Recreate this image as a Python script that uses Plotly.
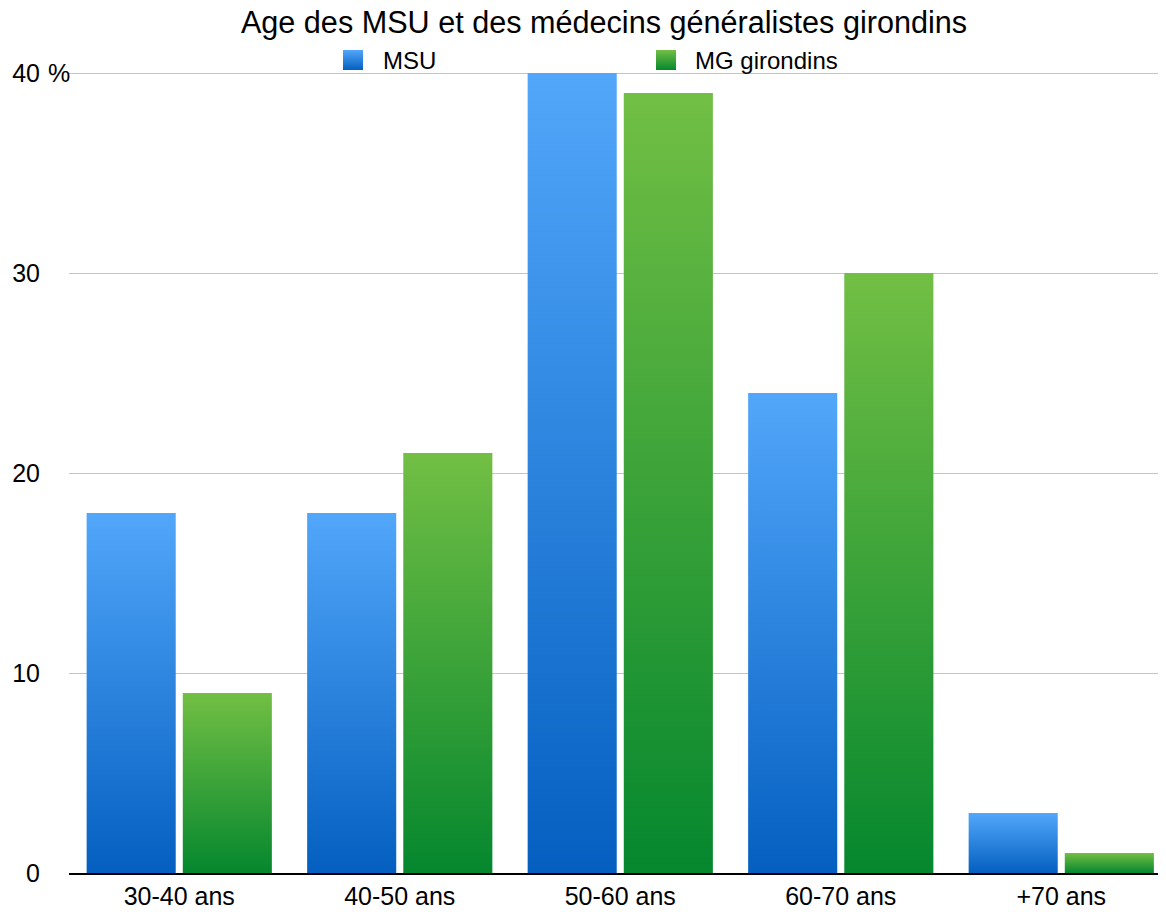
import plotly.graph_objects as go

categories = ["30-40 ans", "40-50 ans", "50-60 ans", "60-70 ans", "+70 ans"]
msu = [18, 18, 40, 24, 3]
mg = [9, 21, 39, 30, 1]
series_names = ["MSU", "MG girondins"]
y_tickvals = [0, 10, 20, 30, 40]
y_ticktext = ["0", "10", "20", "30", "40"]
title_text = "Age des MSU et des médecins généralistes girondins"

FONT = "Liberation Sans, Arial, Helvetica, sans-serif"
BLUE_TOP, BLUE_BOT = "#52A7FA", "#045FC0"
GREEN_TOP, GREEN_BOT = "#72BF44", "#05872E"

BAR_W = 0.404
OFFSETS = [-0.218, 0.218]
series = [msu, mg]
colors = [(BLUE_TOP, BLUE_BOT), (GREEN_TOP, GREEN_BOT)]

# page has an 8px body margin: the figure is drawn from (8, 8)
PAGE_OFF = 8
FIG_W, FIG_H = 1166 - PAGE_OFF, 912 - PAGE_OFF
PLOT_L, PLOT_R, PLOT_T, PLOT_B = 69, 1166, 40, 873   # page pixels
Y_PX_PER_UNIT = 20.0                                  # 0 at 873, 40 at 73
Y_TOP = (PLOT_B - PLOT_T) / Y_PX_PER_UNIT

fig = go.Figure()

for s_idx, vals in enumerate(series):
    top, bot = colors[s_idx]
    for i, v in enumerate(vals):
        xc = i + OFFSETS[s_idx]
        x0, x1 = xc - BAR_W / 2, xc + BAR_W / 2
        fig.add_trace(go.Scatter(
            x=[x0, x1, x1, x0, x0],
            y=[0, 0, v, v, 0],
            mode="none",
            fill="toself",
            fillgradient=dict(type="vertical", colorscale=[[0, bot], [1, top]]),
            name=series_names[s_idx],
            text=f"{series_names[s_idx]} – {categories[i]}: {v}%",
            hoverinfo="text",
            hoveron="fills",
            showlegend=False,
        ))

# manual legend (gradient squares) on an overlay axis in page pixels
legend_x = [353, 666]
legend_text_x = [381, 693]
legend_y = 60
for s_idx, name in enumerate(series_names):
    top, bot = colors[s_idx]
    fig.add_trace(go.Scatter(
        x=[legend_x[s_idx]], y=[legend_y],
        xaxis="x2", yaxis="y2",
        mode="markers",
        marker=dict(symbol="square", size=20, color=top,
                    gradient=dict(type="vertical", color=bot),
                    line=dict(width=0)),
        cliponaxis=False,
        hoverinfo="skip",
        showlegend=False,
    ))
    fig.add_annotation(
        x=legend_text_x[s_idx], y=legend_y, xref="x2", yref="y2",
        text=name, showarrow=False, xanchor="left", yanchor="middle",
        font=dict(family=FONT, size=24, color="black"),
    )

fig.add_annotation(
    x=(46 - PLOT_L) / (PLOT_R - PLOT_L), y=40, xref="paper", yref="y",
    text="%", showarrow=False, xanchor="left", yanchor="middle",
    font=dict(family=FONT, size=25, color="black"),
)

fig.update_layout(
    width=FIG_W, height=FIG_H,
    margin=dict(l=PLOT_L - PAGE_OFF, r=1166 - PLOT_R, t=PLOT_T - PAGE_OFF, b=912 - PLOT_B),
    paper_bgcolor="white", plot_bgcolor="white",
    font=dict(family=FONT, color="black"),
    showlegend=False,
    title=dict(
        text=title_text,
        font=dict(family=FONT, size=30.6, color="black"),
        x=(604 - PAGE_OFF) / FIG_W, xref="container", xanchor="center",
        y=1 - (22 - PAGE_OFF) / FIG_H, yref="container", yanchor="middle",
    ),
    xaxis=dict(
        range=[-0.5, 4.475],
        tickvals=list(range(len(categories))),
        ticktext=categories,
        showgrid=False, zeroline=False,
        showline=True, linecolor="black", linewidth=2,
        ticks="",
        tickfont=dict(family=FONT, size=25, color="black"),
        fixedrange=True,
    ),
    yaxis=dict(
        range=[0, Y_TOP],
        tickvals=y_tickvals, ticktext=y_ticktext,
        showgrid=True, gridcolor="#C4C4C4", gridwidth=1,
        zeroline=False, showline=False, ticks="",
        ticklabelstandoff=28,
        tickfont=dict(family=FONT, size=25, color="black"),
        fixedrange=True,
    ),
    xaxis2=dict(range=[PLOT_L, PLOT_R], overlaying="x", visible=False, fixedrange=True),
    yaxis2=dict(range=[PLOT_B, PLOT_T], overlaying="y", visible=False, fixedrange=True),
)

fig.write_html("out.html")
